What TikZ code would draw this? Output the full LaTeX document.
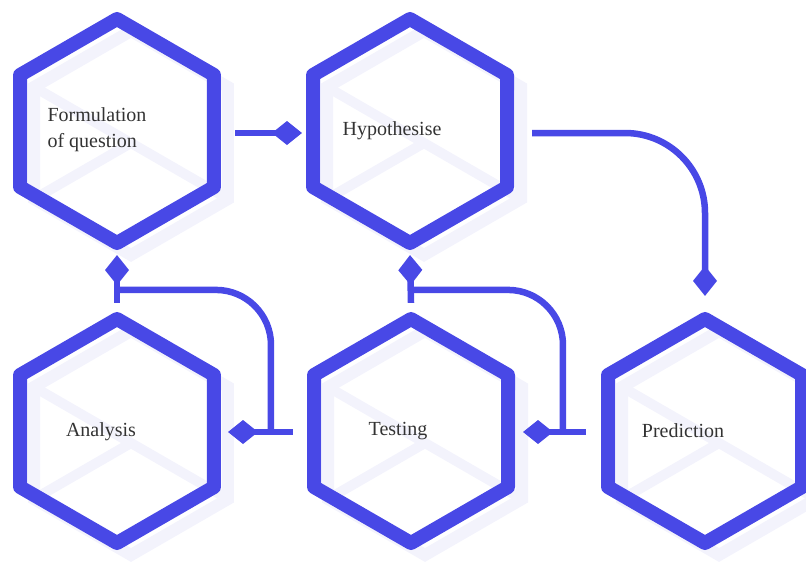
\documentclass[tikz,border=0pt]{standalone}
\usepackage{fontspec}
\setmainfont{Liberation Serif}
\usetikzlibrary{arrows.meta,shapes.geometric,calc}
\definecolor{hexcol}{RGB}{72,72,230}
\definecolor{shadecol}{RGB}{243,243,252}
\definecolor{txtcol}{RGB}{51,51,51}
\tikzset{
  % hexagon outline
  hexnode/.style={regular polygon, regular polygon sides=6, shape border rotate=30,
    minimum size=224pt, inner sep=0pt, draw=hexcol, line width=14pt, line join=round},
  % pale offset copy behind each hexagon
  hexshade/.style={regular polygon, regular polygon sides=6, shape border rotate=30,
    minimum size=224pt, inner sep=0pt, outer sep=0pt, draw=shadecol, line width=12pt},
  shadeline/.style={draw=shadecol, line width=10pt},
  % connector with diamond head
  link/.style={draw=hexcol, line width=6.5pt, -{Diamond[length=30pt,width=24pt]}},
  % connector without head
  plainlink/.style={draw=hexcol, line width=6.5pt},
  % text inside a hexagon
  steplabel/.style={font=\fontsize{20}{26}\selectfont, text=txtcol, align=left, inner sep=0pt},
}

\begin{document}
\begin{tikzpicture}[x=1pt,y=-1pt]
  \useasboundingbox (0,0) rectangle (806,565);
  % pale shadows
  \foreach \nm/\px/\py in {formsh/131/143, hyposh/424/143, analsh/131/443, testsh/425/443, predsh/719/443}{
    \node[hexshade] (\nm) at (\px,\py) {};
    \draw[shadeline] (\nm.150) -- (\nm.-30);
    \draw[shadeline] (\nm.210) -- (\nm.center);
  }
  % hexagons
  \node[hexnode] (form) at (117,131) {};
  \node[hexnode] (hypo) at (410,131) {};
  \node[hexnode] (anal) at (117,431) {};
  \node[hexnode] (test) at (411,431) {};
  \node[hexnode] (pred) at (705,431) {};
  % connectors
  \draw[link] ([xshift=14pt,yshift=-2pt]form.east) -- ([xshift=-4pt,yshift=-2pt]hypo.west);
  \draw[link, rounded corners=80pt] ([xshift=18pt,yshift=-2pt]hypo.east) -| ([yshift=15pt]pred.north);
  \draw[link] ([yshift=8pt]test.north) -- ([yshift=-4pt]hypo.south);
  \draw[plainlink, rounded corners=55pt] ([yshift=21pt]test.north) -| ([xshift=-38pt,yshift=-1pt]pred.west);
  \draw[link] ([xshift=-15pt,yshift=-1pt]pred.west) -- ([xshift=8pt,yshift=-1pt]test.east);
  \draw[link] ([xshift=-14pt,yshift=-1pt]test.west) -- ([xshift=7pt,yshift=-1pt]anal.east);
  \draw[plainlink, rounded corners=55pt] ([yshift=21pt]anal.north) -| ([xshift=-36pt,yshift=-1pt]test.west);
  \draw[link] ([yshift=8pt]anal.north) -- ([yshift=-4pt]form.south);
  % labels
  \node[steplabel] (formtxt) at (97,130) {Formulation\\of question};
  \node[steplabel] (hypotxt) at (392,131) {Hypothesise};
  \node[steplabel] (analtxt) at (101,432) {Analysis};
  \node[steplabel] (testtxt) at (398,431) {Testing};
  \node[steplabel] (predtxt) at (683,431) {Prediction};
\end{tikzpicture}
\end{document}
